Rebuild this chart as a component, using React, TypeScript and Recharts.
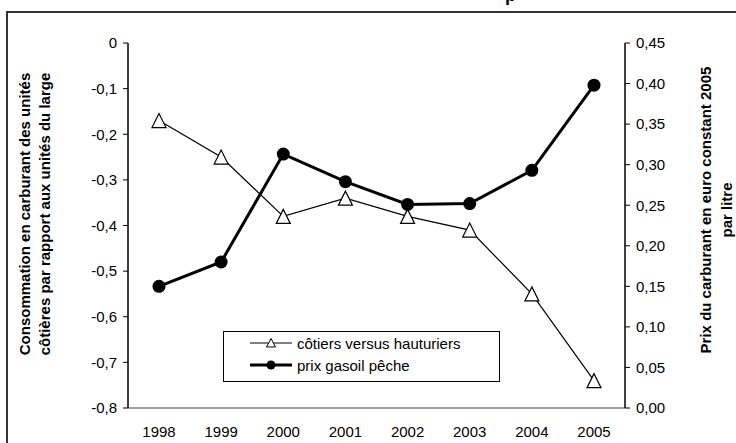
import React from "react";
import { LineChart, Line, XAxis, YAxis, Legend } from "recharts";

const years = ["1998", "1999", "2000", "2001", "2002", "2003", "2004", "2005"];
const cotiersVsHauturiers = [-0.17, -0.25, -0.38, -0.34, -0.38, -0.41, -0.55, -0.74];
const prixGasoilPeche = [0.15, 0.18, 0.313, 0.279, 0.251, 0.252, 0.293, 0.398];
const leftTicks = [0, -0.1, -0.2, -0.3, -0.4, -0.5, -0.6, -0.7, -0.8];
const rightTicks = [0, 0.05, 0.1, 0.15, 0.2, 0.25, 0.3, 0.35, 0.4, 0.45];
const yearBoundaries = [1, 2, 3, 4, 5, 6, 7];

const data = years.map((year, i) => ({
  year,
  cotiers: cotiersVsHauturiers[i],
  prix: prixGasoilPeche[i],
}));

const fmtLeft = (v: number) => (v === 0 ? "0" : v.toFixed(1).replace(".", ","));
const fmtRight = (v: number) => v.toFixed(2).replace(".", ",");

const TriangleDot = (props: any) => {
  const { cx, cy, index } = props;
  if (cx == null || cy == null) return null;
  return (
    <polygon
      key={`tri-${index}`}
      points={`${cx},${cy - 7} ${cx - 7},${cy + 7} ${cx + 7},${cy + 7}`}
      fill="#fff"
      stroke="#000"
      strokeWidth={1.2}
    />
  );
};

const LegendBox = (props: any) => {
  const { payload = [] } = props;
  return (
    <div>
      {payload.map((entry: any) => {
        const thick = entry.dataKey === "prix";
        return (
          <div
            key={entry.value}
            style={{ height: 22, display: "flex", alignItems: "center", paddingLeft: 26 }}
          >
            <svg width={42} height={14}>
              <line x1={0} x2={42} y1={7} y2={7} stroke="#000" strokeWidth={thick ? 3 : 1} />
              {thick ? (
                <circle cx={21} cy={7} r={4.5} fill="#000" />
              ) : (
                <polygon points="21,2.5 16.5,11 25.5,11" fill="#fff" stroke="#000" strokeWidth={1} />
              )}
            </svg>
            <span style={{ marginLeft: 5, fontSize: 15, color: "#000" }}>{entry.value}</span>
          </div>
        );
      })}
    </div>
  );
};

export default function App() {
  return (
    <div
      style={{
        position: "absolute",
        left: 0,
        top: 0,
        width: 736,
        height: 443,
        overflow: "hidden",
        background: "#fff",
        fontFamily: "'Liberation Sans', Arial, sans-serif",
        color: "#000",
      }}
    >
      <div
        style={{
          position: "absolute",
          left: 6,
          top: 11,
          width: 800,
          height: 500,
          border: "2px solid #333",
        }}
      />
      {/* title above the frame, only its lower edge is in view */}
      <div
        style={{
          position: "absolute",
          left: 505,
          top: -14,
          fontSize: 18,
          lineHeight: "18px",
          fontWeight: "bold",
        }}
      >
        p
      </div>

      <LineChart
        width={736}
        height={443}
        data={data}
        margin={{ top: 43, right: 51, bottom: 5, left: 68 }}
      >
        <XAxis
          dataKey="year"
          interval={0}
          padding={{ left: 31, right: 31 }}
          height={30}
          axisLine={{ stroke: "#808080", strokeWidth: 1.5 }}
          tickLine={false}
          tickSize={6}
          tickMargin={12}
          tick={{ fontSize: 15, fill: "#000" }}
        />
        <XAxis
          xAxisId="top"
          type="number"
          orientation="top"
          domain={[0, 8]}
          ticks={yearBoundaries}
          height={0}
          mirror
          tickSize={5}
          tickFormatter={() => ""}
          axisLine={{ stroke: "#000", strokeWidth: 1.5 }}
          tickLine={{ stroke: "#000" }}
        />
        <YAxis
          yAxisId="left"
          domain={[-0.8, 0]}
          ticks={leftTicks}
          interval={0}
          width={60}
          tickSize={5}
          tickMargin={6}
          tickFormatter={fmtLeft}
          axisLine={{ stroke: "#000", strokeWidth: 1.5 }}
          tickLine={{ stroke: "#000" }}
          tick={{ fontSize: 15, fill: "#000" }}
        />
        <YAxis
          yAxisId="rightInner"
          orientation="right"
          domain={[0, 0.45]}
          ticks={rightTicks}
          interval={0}
          width={0}
          mirror
          tickSize={5}
          tickFormatter={() => ""}
          axisLine={false}
          tickLine={{ stroke: "#000" }}
        />
        <YAxis
          yAxisId="right"
          orientation="right"
          domain={[0, 0.45]}
          ticks={rightTicks}
          interval={0}
          width={60}
          tickSize={5}
          tickMargin={6}
          tickFormatter={fmtRight}
          axisLine={{ stroke: "#000", strokeWidth: 1.5 }}
          tickLine={{ stroke: "#000" }}
          tick={{ fontSize: 15, fill: "#000" }}
        />
        <Legend
          layout="vertical"
          align="center"
          verticalAlign="middle"
          content={<LegendBox />}
          wrapperStyle={{
            left: 223,
            top: 331,
            width: 277,
            height: 51,
            border: "1px solid #000",
            background: "#fff",
            boxSizing: "border-box",
          }}
        />
        <Line
          yAxisId="left"
          dataKey="cotiers"
          name="côtiers versus hauturiers"
          stroke="#000"
          strokeWidth={1.2}
          dot={TriangleDot}
          activeDot={false}
          isAnimationActive={false}
        />
        <Line
          yAxisId="right"
          dataKey="prix"
          name="prix gasoil pêche"
          stroke="#000"
          strokeWidth={3}
          dot={{ r: 6.5, fill: "#000", stroke: "#000", strokeWidth: 0 }}
          activeDot={false}
          isAnimationActive={false}
        />
      </LineChart>

      <div
        style={{
          position: "absolute",
          left: 35 - 160,
          top: 214 - 20,
          width: 320,
          height: 40,
          lineHeight: "20px",
          fontSize: 15,
          fontWeight: "bold",
          textAlign: "center",
          transform: "rotate(-90deg)",
          whiteSpace: "nowrap",
        }}
      >
        Consommation en carburant des unités
        <br />
        côtières par rapport aux unités du large
      </div>
      <div
        style={{
          position: "absolute",
          left: 716 - 160,
          top: 210 - 21,
          width: 320,
          height: 42,
          lineHeight: "21px",
          fontSize: 15,
          fontWeight: "bold",
          textAlign: "center",
          transform: "rotate(-90deg)",
          whiteSpace: "nowrap",
        }}
      >
        Prix du carburant en euro constant 2005
        <br />
        par litre
      </div>
    </div>
  );
}
